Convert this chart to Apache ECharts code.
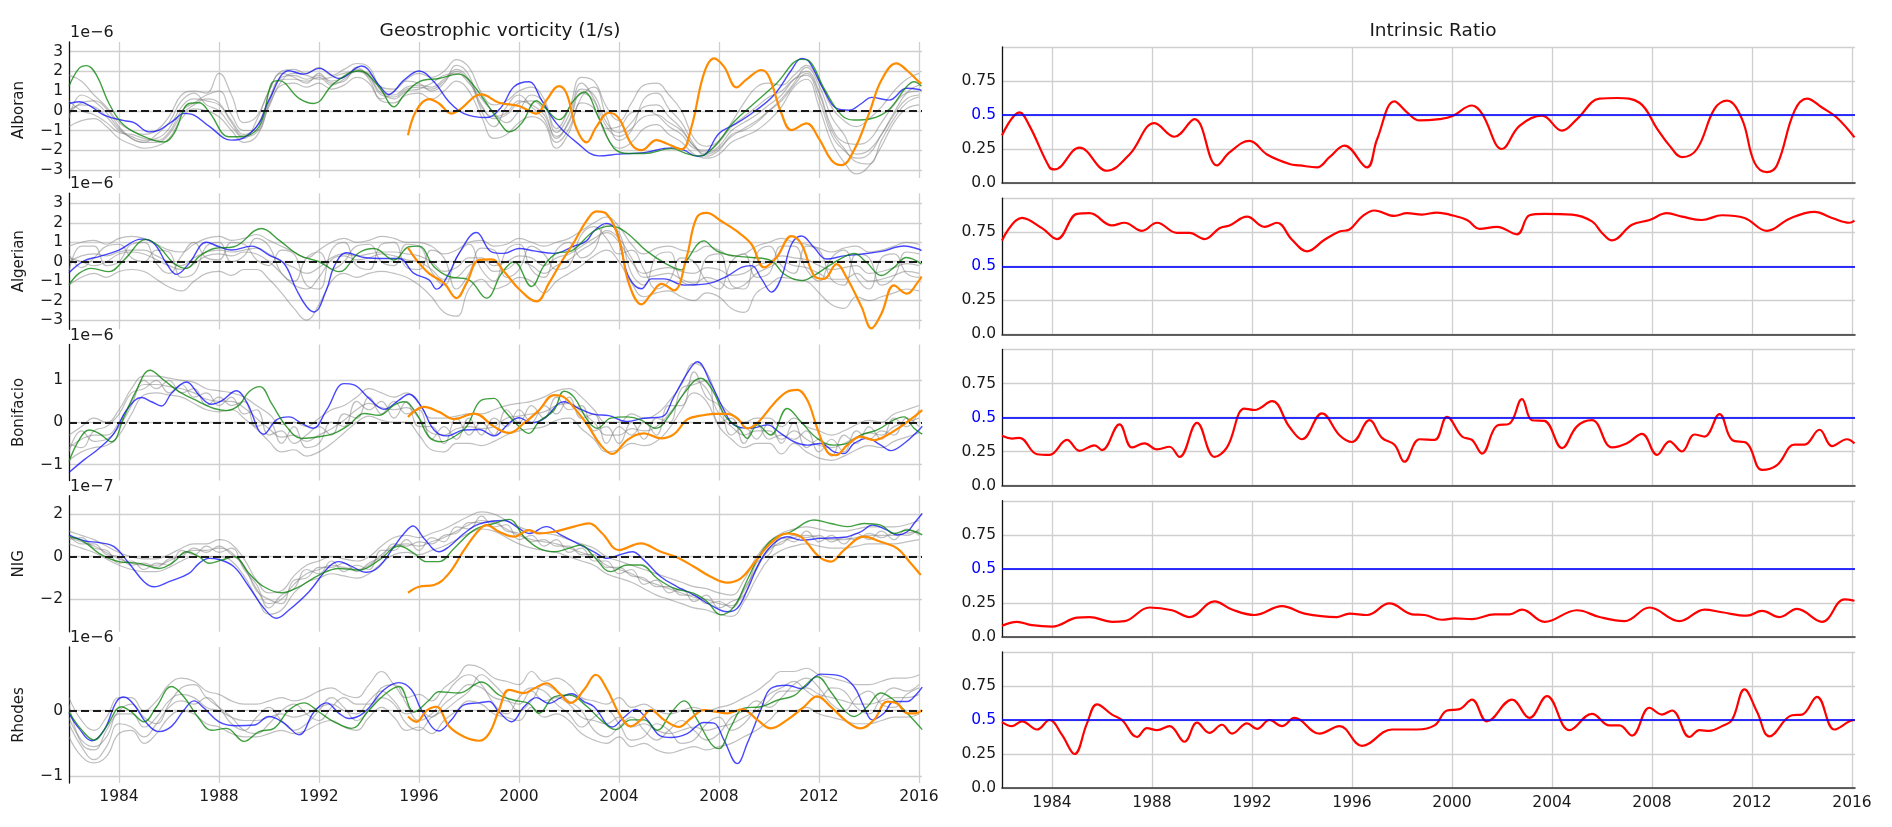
<!DOCTYPE html>
<html><head><meta charset="utf-8">
<script src="https://cdn.jsdelivr.net/npm/echarts@6.0.0/dist/echarts.min.js"></script>
<style>html,body{margin:0;padding:0;background:#fff}#chart{width:1892px;height:827px}</style>
</head><body><div id="chart"></div>
<script>
// ---------------- DATA ----------------
const halfYears = [
1982,1982.5,1983,1983.5,1984,1984.5,1985,1985.5,1986,1986.5,
1987,1987.5,1988,1988.5,1989,1989.5,1990,1990.5,1991,1991.5,
1992,1992.5,1993,1993.5,1994,1994.5,1995,1995.5,1996,1996.5,
1997,1997.5,1998,1998.5,1999,1999.5,2000,2000.5,2001,2001.5,
2002,2002.5,2003,2003.5,2004,2004.5,2005,2005.5,2006,2006.5,
2007,2007.5,2008,2008.5,2009,2009.5,2010,2010.5,2011,2011.5,
2012,2012.5,2013,2013.5,2014,2014.5,2015,2015.5,2016];
const yearTicks = [1984,1988,1992,1996,2000,2004,2008,2012,2016];
const regionNames = ['Alboran','Algerian','Bonifacio','NIG','Rhodes'];
const offsetLabels = ['1e\u22126','1e\u22126','1e\u22126','1e\u22127','1e\u22126'];
const alboranTicks = [-3,-2,-1,0,1,2,3];
const algerianTicks = [-3,-2,-1,0,1,2,3];
const bonifacioTicks = [-1,0,1];
const nigTicks = [-2,0,2];
const rhodesTicks = [-1,0];
const ratioTicks = [0,0.25,0.5,0.75,1.0];
const ratioLabels = [0,0.25,0.5,0.75];

// Alboran ensemble members (1e-6 1/s)
const alboranGray1 = [0.0,0.3,0.2,-0.3,-1.0,-1.3,-1.5,-1.4,-0.9,0.2,
0.6,0.5,0.3,-0.5,-1.2,-0.8,0.6,1.7,1.8,1.6,
1.8,1.5,1.7,2.1,1.8,0.9,0.8,1.2,1.3,1.2,
1.6,2.1,1.6,0.3,-0.4,-0.2,0.4,0.5,0.0,-1.4,
-0.5,1.1,0.8,-0.6,-1.1,-0.6,0.2,0.3,-0.3,-0.9,
-1.8,-2.1,-1.8,-1.0,-0.6,-0.2,0.3,0.8,1.6,2.0,
1.0,-0.8,-1.6,-1.7,-1.5,-0.6,0.3,0.9,1.0];
const alboranGray2 = [1.8,1.5,0.8,0.2,-0.6,-1.0,-1.2,-1.0,-0.3,0.8,
1.0,0.9,1.9,0.8,-0.6,-0.3,1.0,2.0,2.1,1.9,
2.2,1.8,2.1,2.4,2.2,1.2,1.1,1.6,1.9,1.7,
2.0,2.6,2.2,0.9,0.3,0.5,1.0,1.2,0.6,-0.9,
0.1,1.7,1.5,0.2,-0.5,0.4,1.3,1.4,0.8,0.0,
-1.4,-1.8,-1.5,-0.6,0.4,1.2,1.4,1.3,1.8,2.3,
1.5,0.2,-0.5,-0.8,-0.4,0.2,1.0,1.6,1.9];
const alboranGray3 = [-0.8,-0.5,-0.4,-0.8,-1.4,-1.7,-1.9,-1.8,-1.4,-0.4,
0.1,0.0,-0.3,-1.0,-1.6,-1.3,0.2,1.3,1.4,1.2,
1.4,1.1,1.3,1.7,1.4,0.5,0.4,0.8,0.9,0.6,
1.0,1.5,1.0,-0.3,-1.4,-1.2,-0.6,-0.3,-0.6,-1.9,
-1.1,0.4,0.1,-1.3,-1.9,-1.6,-0.9,-0.7,-1.2,-1.6,
-2.2,-2.4,-2.2,-1.6,-1.3,-1.0,-0.5,0.2,1.2,1.6,
0.2,-1.6,-2.6,-3.2,-2.8,-1.8,-0.6,0.1,0.3];
const alboranGray4 = [-0.4,0.8,0.5,-0.1,-0.9,-1.4,-1.6,-1.2,-0.6,0.5,
0.9,0.3,0.0,-0.8,-1.4,-0.5,1.0,1.9,1.7,1.4,
1.9,1.4,1.5,2.2,1.6,0.6,1.0,1.5,1.4,1.0,
1.4,2.3,1.8,0.0,-0.8,0.2,0.8,0.2,-0.4,-1.6,
-0.9,0.7,1.2,-0.3,-1.5,-1.0,0.6,0.9,0.1,-0.6,
-1.7,-2.3,-2.0,-1.2,-1.0,-0.6,0.0,0.6,1.4,2.2,
1.3,-0.3,-1.2,-2.2,-2.0,-1.2,-0.2,0.6,0.8];
const alboranGray5 = [0.5,0.0,-0.2,-0.6,-1.1,-1.2,-1.4,-1.5,-1.1,0.0,
0.4,0.8,1.0,-0.2,-1.0,-1.0,0.3,1.5,1.9,1.8,
1.6,1.7,1.9,2.0,1.9,1.0,0.6,1.0,1.1,1.4,
1.8,1.9,1.4,0.6,-0.1,-0.6,0.0,0.8,0.4,-1.1,
-0.2,1.4,0.6,-0.9,-0.8,-0.1,0.0,-0.2,-0.8,-1.2,
-1.9,-2.0,-1.6,-0.8,-0.3,0.2,0.7,1.0,1.6,1.8,
0.6,-1.2,-2.0,-2.4,-2.2,-1.2,-0.1,0.9,1.3];
const alboranGray6 = [-0.2,0.4,0.5,0.1,-0.8,-1.4,-1.6,-1.6,-1.2,-0.2,
0.3,0.6,0.4,-0.6,-1.3,-1.1,0.4,1.6,1.6,1.5,
1.7,1.3,1.6,2.0,1.7,0.8,0.7,1.1,1.2,1.1,
1.5,2.0,1.5,0.2,-0.3,-0.1,0.5,0.3,-0.2,-1.3,
-0.6,0.9,0.5,-0.8,-1.3,-0.9,-0.3,-0.2,-0.6,-1.0,
-1.8,-2.2,-1.9,-1.3,-0.9,-0.5,0.0,0.5,1.3,1.9,
0.9,-1.0,-1.9,-2.6,-2.7,-1.5,-0.4,0.4,0.7];

// Algerian ensemble members (1e-6 1/s)
const algerianGray1 = [0.0,0.3,0.4,0.3,0.5,0.6,0.6,0.3,0.0,-0.2,
0.2,0.5,0.6,0.5,0.6,0.7,0.4,0.0,-0.3,-0.6,
-0.3,0.2,0.4,0.3,0.4,0.5,0.5,0.4,0.3,0.0,
-0.5,-0.3,0.2,0.2,-0.2,0.0,0.3,0.2,-0.2,0.2,
0.4,0.8,1.2,1.5,1.0,0.0,-0.6,-0.4,-0.3,-0.5,
-0.6,-0.3,-0.4,-0.7,-0.6,-0.2,0.0,0.3,0.2,0.1,
-0.2,-0.4,-0.3,-0.2,-0.6,-0.5,-0.3,-0.1,-0.2];
const algerianGray2 = [0.8,1.0,1.1,0.9,1.2,1.3,1.2,0.9,0.6,0.5,
0.9,1.2,1.3,1.1,1.2,1.4,1.1,0.8,0.5,0.2,
0.6,1.0,1.2,1.0,1.1,1.3,1.2,1.0,1.0,0.8,
0.4,0.6,1.0,1.1,0.8,0.9,1.2,1.0,0.8,1.0,
1.2,1.6,2.0,2.3,1.8,0.9,0.4,0.7,0.8,0.6,
0.5,0.8,0.6,0.3,0.4,0.8,1.0,1.2,1.0,0.9,
0.7,0.5,0.7,0.8,0.5,0.6,0.8,1.0,0.9];
const algerianGray3 = [-1.2,-0.8,-0.6,-0.8,-0.5,-0.4,-0.5,-0.9,-1.3,-1.5,
-1.0,-0.6,-0.5,-0.7,-0.4,-0.4,-0.9,-1.6,-2.4,-3.0,
-2.2,-1.0,-0.6,-0.8,-0.6,-0.5,-0.6,-0.8,-1.2,-1.8,
-2.6,-2.8,-1.4,-0.9,-1.4,-1.2,-0.8,-1.0,-1.6,-1.0,
-0.6,-0.2,0.3,0.6,0.0,-1.1,-1.8,-1.6,-1.5,-1.8,
-2.0,-1.6,-1.8,-2.4,-2.6,-1.6,-1.2,-0.8,-0.9,-1.0,
-1.6,-2.2,-2.4,-1.8,-2.0,-1.8,-1.6,-1.4,-1.5];
const algerianGray4 = [0.4,-0.3,0.2,0.8,0.9,0.2,0.0,0.6,0.5,-0.8,
-0.6,0.8,1.0,0.0,0.3,1.2,0.8,-0.6,-1.0,0.2,
0.5,-0.4,0.0,0.8,0.9,0.0,-0.2,0.9,0.8,-0.5,
-1.2,0.2,0.9,-0.4,-1.0,0.6,0.9,-0.4,-0.8,0.6,
1.0,0.2,0.6,1.9,1.5,-0.6,-1.2,0.3,0.5,-1.0,
-1.2,0.2,0.4,-1.2,-1.4,0.4,0.8,-0.2,-0.6,0.8,
0.6,-0.9,-1.2,0.4,0.2,-1.2,-0.8,0.5,0.4];
const algerianGray5 = [-0.5,0.8,0.8,-0.2,0.0,0.9,1.0,-0.1,-0.6,0.3,
1.0,0.2,0.1,1.0,0.9,0.1,-0.2,0.6,0.4,-1.2,
-1.4,0.6,1.0,-0.2,-0.4,0.9,1.0,-0.3,-0.4,0.6,
0.2,-1.4,-0.6,0.7,0.6,-0.8,-0.4,0.8,0.4,-0.4,
-0.2,1.4,1.8,1.2,0.4,0.6,-0.4,-1.4,-1.0,0.2,
0.0,-1.0,-1.4,0.0,0.4,-0.8,-0.6,0.8,0.8,-0.4,
-1.0,0.2,0.6,-0.8,-1.4,0.2,0.4,-0.6,-0.8];
const algerianGray6 = [0.2,0.0,-0.2,0.0,0.4,0.5,0.4,0.1,-0.2,-0.4,
-0.1,0.3,0.4,0.3,0.5,0.4,0.0,-0.6,-1.2,-1.4,
-0.8,0.1,0.3,0.1,0.2,0.4,0.3,0.1,0.0,-0.4,
-0.9,-0.8,-0.2,0.0,-0.5,-0.4,0.0,-0.2,-0.6,-0.2,
0.1,0.6,1.0,1.6,1.2,0.2,-0.8,-0.7,-0.6,-0.9,
-1.1,-0.8,-1.0,-1.4,-1.2,-0.6,-0.3,0.0,-0.2,-0.3,
-0.6,-0.9,-0.9,-0.6,-1.0,-0.9,-0.7,-0.5,-0.6];

// Bonifacio ensemble members (1e-6 1/s)
const bonifacioGray1 = [-0.6,-0.4,-0.3,-0.3,0.0,0.5,0.9,0.9,0.85,0.8,
0.7,0.55,0.5,0.5,0.35,0.1,-0.15,-0.35,-0.3,-0.45,
-0.3,-0.15,0.05,0.3,0.45,0.35,0.3,0.35,0.1,-0.25,
-0.3,-0.15,-0.1,-0.15,-0.1,0.1,0.15,0.2,0.25,0.4,
0.45,0.25,0.0,-0.3,-0.3,-0.15,-0.2,-0.1,0.2,0.6,
1.0,0.8,0.2,-0.1,-0.3,-0.2,-0.2,-0.4,-0.2,-0.4,
-0.55,-0.6,-0.5,-0.35,-0.25,-0.3,-0.1,0.0,0.1];
const bonifacioGray2 = [-0.3,-0.1,0.1,0.0,0.3,0.8,1.1,1.1,1.05,1.0,
0.95,0.8,0.75,0.7,0.6,0.4,0.2,-0.05,0.0,-0.1,
0.1,0.3,0.4,0.6,0.8,0.7,0.6,0.7,0.45,0.1,
0.1,0.15,0.2,0.2,0.3,0.4,0.45,0.5,0.6,0.75,
0.8,0.6,0.3,0.0,0.0,0.2,0.1,0.2,0.5,0.9,
1.4,1.2,0.5,0.2,0.0,0.1,0.1,-0.1,0.1,-0.1,
-0.2,-0.3,-0.2,-0.05,0.05,0.0,0.2,0.3,0.4];
const bonifacioGray3 = [-0.9,-0.7,-0.6,-0.55,-0.3,0.2,0.65,0.7,0.65,0.6,
0.45,0.3,0.25,0.3,0.1,-0.15,-0.45,-0.7,-0.65,-0.8,
-0.7,-0.5,-0.25,0.0,0.15,0.05,0.0,0.0,-0.3,-0.65,
-0.7,-0.5,-0.5,-0.55,-0.45,-0.3,-0.2,-0.15,-0.1,0.05,
0.1,-0.15,-0.4,-0.7,-0.65,-0.5,-0.55,-0.45,-0.15,0.3,
0.7,0.5,-0.1,-0.4,-0.6,-0.5,-0.5,-0.75,-0.5,-0.7,
-0.85,-0.9,-0.8,-0.65,-0.55,-0.6,-0.45,-0.35,-0.25];
const bonifacioGray4 = [-0.5,-0.6,-0.2,-0.1,0.2,0.7,0.8,1.0,0.7,0.9,
0.6,0.7,0.4,0.6,0.2,0.3,-0.3,-0.2,-0.5,-0.3,
-0.1,-0.3,0.2,0.1,0.6,0.2,0.5,0.2,0.3,-0.4,
-0.1,-0.4,0.1,-0.3,0.1,-0.1,0.3,0.0,0.4,0.2,
0.6,0.1,0.2,-0.5,-0.1,-0.3,0.0,-0.3,0.4,0.4,
1.2,0.6,0.4,-0.3,-0.1,-0.4,0.0,-0.5,0.0,-0.6,
-0.4,-0.8,-0.3,-0.5,-0.1,-0.4,0.1,-0.1,0.3];
const bonifacioGray5 = [-0.7,-0.2,-0.45,-0.4,-0.1,0.4,1.0,0.8,1.0,0.7,
0.8,0.4,0.6,0.4,0.5,-0.1,0.0,-0.5,-0.1,-0.6,
-0.5,0.0,-0.1,0.5,0.3,0.5,0.1,0.5,-0.1,-0.1,
-0.5,0.1,-0.3,0.0,-0.3,0.3,0.0,0.4,0.1,0.6,
0.3,0.4,-0.2,-0.1,-0.5,0.0,-0.4,0.1,0.0,0.8,
0.9,1.0,0.0,0.1,-0.5,0.0,-0.4,-0.3,-0.4,-0.2,
-0.7,-0.4,-0.7,-0.2,-0.4,-0.2,-0.3,0.1,-0.1];

// NIG ensemble members (1e-7 1/s)
const nigGray1 = [0.9,0.7,0.5,0.2,-0.1,-0.3,-0.4,-0.4,-0.2,0.1,
0.3,0.3,0.4,0.2,-0.5,-1.5,-2.2,-2.0,-1.3,-0.8,
-0.6,-0.4,-0.5,-0.6,-0.4,0.1,0.5,0.6,0.5,0.7,
0.9,1.2,1.5,1.7,1.6,1.3,1.0,0.8,0.7,0.6,
0.4,0.2,0.0,-0.4,-0.6,-0.8,-1.1,-1.3,-1.5,-1.7,
-1.9,-2.0,-2.2,-2.3,-1.6,-0.5,0.3,0.7,0.9,1.0,
0.9,0.8,0.8,0.9,1.0,1.0,1.0,1.1,1.2];
const nigGray2 = [1.2,1.0,0.8,0.5,0.2,0.0,-0.1,-0.1,0.1,0.4,
0.6,0.6,0.8,0.6,-0.1,-1.1,-1.7,-1.6,-0.9,-0.4,
-0.2,0.0,-0.1,-0.2,0.0,0.5,0.9,1.0,0.9,1.1,
1.3,1.6,1.9,2.1,2.0,1.7,1.4,1.2,1.1,1.0,
0.8,0.6,0.4,0.0,-0.2,-0.4,-0.6,-0.8,-1.0,-1.2,
-1.4,-1.5,-1.7,-1.8,-1.1,0.0,0.7,1.1,1.3,1.4,
1.3,1.2,1.2,1.3,1.4,1.4,1.4,1.5,1.7];
const nigGray3 = [0.6,0.4,0.2,-0.1,-0.4,-0.6,-0.7,-0.7,-0.5,-0.2,
0.0,0.0,0.0,-0.2,-0.9,-1.9,-2.7,-2.5,-1.7,-1.2,
-1.0,-0.8,-0.9,-1.0,-0.8,-0.3,0.1,0.2,0.1,0.3,
0.5,0.8,1.1,1.3,1.2,0.9,0.6,0.4,0.3,0.2,
0.0,-0.2,-0.4,-0.8,-1.0,-1.2,-1.5,-1.8,-2.0,-2.2,
-2.4,-2.5,-2.7,-2.8,-2.1,-1.0,-0.1,0.3,0.5,0.6,
0.5,0.4,0.4,0.5,0.6,0.6,0.6,0.7,0.8];
const nigGray4 = [0.8,0.9,0.4,0.3,-0.3,-0.2,-0.6,-0.3,-0.4,0.3,
0.1,0.5,0.2,0.4,-0.6,-1.3,-2.4,-1.8,-1.5,-0.6,
-0.8,-0.2,-0.7,-0.4,-0.6,0.3,0.3,0.8,0.3,0.9,
0.7,1.4,1.3,1.9,1.4,1.5,0.8,1.0,0.5,0.8,
0.2,0.4,-0.2,-0.2,-0.8,-0.6,-1.3,-1.1,-1.7,-1.5,
-2.1,-1.8,-2.4,-2.1,-1.8,-0.3,0.1,0.9,0.7,1.2,
0.7,1.0,0.6,1.1,0.8,1.2,0.8,1.3,1.0];
const nigGray5 = [1.0,0.6,0.6,0.1,0.0,-0.4,-0.3,-0.5,-0.1,0.0,
0.4,0.2,0.5,0.1,-0.4,-1.6,-2.0,-2.2,-1.1,-1.0,
-0.5,-0.5,-0.3,-0.7,-0.3,0.0,0.6,0.5,0.7,0.6,
1.0,1.1,1.6,1.6,1.7,1.2,1.1,0.7,0.8,0.5,
0.5,0.1,0.1,-0.5,-0.5,-0.9,-1.0,-1.4,-1.4,-1.8,
-1.8,-2.2,-2.1,-2.4,-1.5,-0.6,0.4,0.6,1.0,0.9,
1.0,0.7,0.9,0.8,1.1,0.9,1.1,1.0,1.3];

// Rhodes ensemble members (1e-6 1/s)
const rhodesGray1 = [-0.1,-0.45,-0.55,-0.4,-0.05,-0.05,-0.25,-0.1,0.15,0.25,
0.2,0.05,0.0,-0.1,-0.15,-0.15,-0.1,-0.05,-0.1,-0.05,
0.05,0.1,0.0,-0.05,0.15,0.3,0.15,-0.05,0.0,-0.1,
0.1,0.25,0.4,0.35,0.2,0.15,0.1,0.3,0.15,0.2,
0.1,-0.1,-0.15,-0.2,-0.1,-0.25,-0.2,-0.3,-0.35,-0.3,
-0.25,-0.3,-0.25,-0.2,-0.1,0.0,0.15,0.3,0.3,0.35,
0.25,0.2,0.15,0.1,0.1,0.15,0.2,0.2,0.25];
const rhodesGray2 = [0.2,-0.15,-0.3,-0.1,0.2,0.2,0.0,0.15,0.4,0.5,
0.45,0.3,0.25,0.15,0.1,0.1,0.15,0.2,0.15,0.2,
0.3,0.35,0.25,0.2,0.4,0.6,0.4,0.2,0.25,0.15,
0.35,0.5,0.7,0.65,0.5,0.45,0.4,0.6,0.45,0.5,
0.4,0.2,0.15,0.1,0.2,0.05,0.1,0.0,-0.05,0.0,
0.05,0.0,0.05,0.1,0.2,0.3,0.45,0.6,0.6,0.65,
0.55,0.5,0.45,0.4,0.4,0.45,0.5,0.5,0.55];
const rhodesGray3 = [-0.4,-0.7,-0.8,-0.7,-0.35,-0.3,-0.5,-0.35,-0.1,0.0,
-0.05,-0.2,-0.25,-0.35,-0.4,-0.4,-0.35,-0.3,-0.35,-0.3,
-0.2,-0.15,-0.25,-0.3,-0.1,0.05,-0.1,-0.3,-0.25,-0.35,
-0.15,0.0,0.15,0.1,-0.05,-0.1,-0.15,0.05,-0.1,-0.05,
-0.15,-0.35,-0.45,-0.5,-0.4,-0.55,-0.5,-0.6,-0.65,-0.6,
-0.55,-0.6,-0.55,-0.5,-0.4,-0.3,-0.15,0.0,0.0,0.05,
-0.05,-0.1,-0.15,-0.2,-0.2,-0.15,-0.1,-0.1,-0.05];
const rhodesGray4 = [0.1,-0.5,-0.6,-0.3,0.0,0.1,-0.1,-0.2,0.1,0.35,
0.4,0.2,0.05,-0.1,-0.3,-0.35,-0.2,0.0,0.1,-0.05,
-0.15,0.05,0.2,0.1,0.1,0.35,0.4,0.1,-0.15,-0.05,
0.2,0.45,0.55,0.4,0.1,-0.05,0.2,0.35,0.3,0.1,
-0.05,-0.25,-0.1,0.0,-0.2,-0.45,-0.4,-0.2,-0.3,-0.5,
-0.45,-0.2,-0.1,-0.3,-0.2,0.05,0.25,0.35,0.45,0.3,
0.2,0.35,0.3,0.05,-0.05,0.2,0.35,0.3,0.4];
const rhodesGray5 = [-0.2,-0.55,-0.75,-0.55,-0.2,-0.25,-0.4,-0.2,0.05,0.15,
0.1,0.2,0.05,-0.2,-0.3,-0.1,0.05,-0.15,-0.3,-0.2,
0.0,0.2,0.05,-0.15,0.0,0.2,0.1,-0.2,-0.3,-0.1,
0.0,0.15,0.3,0.55,0.4,0.2,0.0,0.15,0.4,0.3,
0.15,0.0,-0.3,-0.4,-0.25,-0.1,-0.3,-0.45,-0.3,-0.15,
-0.3,-0.45,-0.35,-0.1,0.0,0.15,0.05,0.2,0.4,0.5,
0.35,0.1,0.0,0.2,0.3,0.1,0.05,0.25,0.35];

// Coloured curves: [year, value]
const alboranBlue = [[1982.0,0.37],[1982.4,0.46],[1982.9,0.2],[1983.4,-0.22],[1984.2,-0.5],[1984.6,-0.6],[1985.2,-1.07],[1985.6,-0.98],[1986.2,-0.47],[1986.6,-0.13],[1987.0,-0.22],[1987.6,-0.78],[1988.5,-1.49],[1989.0,-1.36],[1989.6,-0.64],[1990.0,0.54],[1990.8,2.03],[1991.4,1.86],[1992.0,2.15],[1992.8,1.64],[1993.7,2.27],[1994.4,1.3],[1994.8,0.83],[1995.4,1.56],[1996.0,2.02],[1996.6,1.47],[1997.2,0.46],[1997.8,-0.14],[1998.7,-0.34],[1999.3,0.2],[1999.8,1.22],[2000.4,1.47],[2000.9,0.54],[2001.5,-0.64],[2002.3,-1.6],[2003.2,-2.29],[2004.0,-2.2],[2005.0,-2.12],[2006.1,-1.88],[2006.6,-2.0],[2007.1,-2.3],[2007.4,-2.25],[2008.0,-1.15],[2008.7,-0.64],[2009.4,-0.05],[2010.2,0.8],[2010.9,2.07],[2011.3,2.66],[2011.6,2.49],[2012.2,1.05],[2012.7,0.12],[2013.2,0.03],[2013.7,0.37],[2014.1,0.68],[2014.8,0.54],[2015.5,1.14],[2016.0,1.08],[2016.1,1.02]];
const alboranGreen = [[1982.0,1.25],[1982.4,2.15],[1982.7,2.29],[1983.1,1.81],[1983.6,0.37],[1984.2,-0.73],[1985.2,-1.41],[1985.8,-1.58],[1986.2,-1.15],[1986.8,0.37],[1987.2,0.41],[1987.6,-0.05],[1988.4,-1.32],[1988.8,-1.32],[1989.6,-0.81],[1990.1,1.39],[1990.4,1.53],[1991.2,0.63],[1991.8,0.37],[1992.6,1.39],[1993.6,2.03],[1994.4,1.22],[1995.0,0.2],[1995.4,0.8],[1996.0,1.47],[1996.8,1.64],[1997.6,1.86],[1998.0,1.56],[1998.8,0.2],[1999.4,-0.9],[1999.6,-1.07],[2000.1,-0.64],[2000.7,0.51],[2001.0,0.2],[2001.6,-0.45],[2002.2,0.54],[2002.6,0.95],[2003.2,-0.39],[2003.8,-1.9],[2004.4,-2.17],[2005.0,-2.17],[2006.1,-1.92],[2006.7,-2.17],[2007.2,-2.3],[2007.8,-1.83],[2008.6,-0.56],[2009.4,0.37],[2010.3,1.39],[2011.3,2.61],[2011.6,2.54],[2012.2,1.14],[2012.9,-0.22],[2013.4,-0.47],[2014.1,-0.39],[2014.8,0.07],[2015.5,1.22],[2015.8,1.47],[2016.1,1.25]];
const alboranOrange = [[1995.56,-1.24],[1995.9,0.03],[1996.4,0.59],[1996.8,0.37],[1997.3,-0.14],[1997.6,0.03],[1998.5,0.83],[1999.2,0.41],[2000.0,0.24],[2000.7,-0.14],[2001.1,0.54],[2001.6,1.25],[2001.9,0.88],[2002.3,-0.9],[2002.7,-1.6],[2003.1,-0.8],[2003.6,-0.1],[2004.0,-0.4],[2004.5,-1.7],[2004.9,-2.0],[2005.5,-1.49],[2005.9,-1.66],[2006.5,-1.95],[2006.9,-0.81],[2007.4,1.9],[2007.8,2.66],[2008.2,2.24],[2008.7,1.19],[2009.1,1.59],[2009.7,2.07],[2010.0,1.73],[2010.5,-0.14],[2010.9,-0.98],[2011.5,-0.64],[2012.0,-1.41],[2012.5,-2.51],[2012.9,-2.76],[2013.4,-2.0],[2014.0,-0.14],[2014.5,1.56],[2015.1,2.41],[2015.5,2.07],[2016.0,1.47],[2016.1,1.39]];

const algerianBlue = [[1982.0,-0.56],[1982.6,0.05],[1983.2,0.26],[1984.0,0.6],[1984.9,1.16],[1985.4,0.94],[1985.9,-0.09],[1986.3,-0.65],[1986.8,-0.09],[1987.5,1.0],[1988.0,0.77],[1988.5,0.6],[1989.3,0.8],[1990.0,0.34],[1990.6,-0.09],[1991.1,-1.44],[1991.5,-2.3],[1991.8,-2.58],[1992.3,-1.44],[1992.6,-0.26],[1993.1,0.46],[1993.8,0.22],[1994.6,0.17],[1995.2,0.17],[1995.8,-0.6],[1996.4,-0.93],[1996.7,-1.41],[1997.2,-0.6],[1997.6,0.43],[1998.3,1.5],[1998.9,0.51],[1999.4,0.43],[2000.0,0.68],[2000.6,0.56],[2001.4,0.43],[2002.2,0.8],[2002.7,1.07],[2003.0,1.58],[2003.5,1.97],[2003.9,1.58],[2004.1,0.56],[2004.4,-0.8],[2004.9,-1.39],[2005.3,-0.88],[2005.8,-0.88],[2006.6,-1.2],[2007.5,-1.14],[2008.3,-0.76],[2008.9,-0.29],[2009.3,-0.2],[2009.7,-0.88],[2010.1,-1.56],[2010.5,-0.8],[2010.9,0.9],[2011.3,1.32],[2011.8,0.73],[2012.3,0.14],[2013.0,0.3],[2013.7,0.39],[2014.5,0.53],[2015.4,0.81],[2016.0,0.64],[2016.1,0.56]];
const algerianGreen = [[1982.0,-1.19],[1982.4,-0.6],[1982.9,-0.34],[1983.6,-0.51],[1984.2,0.09],[1985.1,1.15],[1985.6,0.77],[1986.2,-0.09],[1986.7,-0.34],[1987.2,0.26],[1987.8,0.68],[1988.6,0.77],[1989.7,1.71],[1990.4,1.11],[1991.2,0.34],[1992.0,0.0],[1992.8,-0.51],[1993.6,0.46],[1994.2,0.68],[1995.0,0.09],[1995.6,0.77],[1996.0,0.8],[1996.6,-0.26],[1997.2,-0.76],[1998.0,-0.93],[1998.7,-1.87],[1999.3,-0.6],[1999.8,0.0],[2000.5,-1.27],[2001.0,-0.2],[2001.5,0.43],[2002.1,0.56],[2003.0,1.58],[2003.7,1.83],[2004.3,1.49],[2005.1,0.56],[2005.9,-0.12],[2006.5,-0.42],[2006.7,0.05],[2007.4,1.07],[2007.9,0.56],[2008.6,0.3],[2009.3,0.22],[2010.1,0.05],[2010.6,-0.63],[2011.3,-0.97],[2011.8,-0.71],[2012.3,-0.29],[2013.0,0.25],[2013.4,0.42],[2013.9,-0.03],[2014.5,-0.71],[2015.0,-0.29],[2015.5,0.22],[2016.1,-0.12]];
const algerianOrange = [[1995.56,0.72],[1995.9,0.09],[1996.4,-0.6],[1997.0,-1.1],[1997.5,-1.87],[1997.9,-1.1],[1998.4,0.09],[1998.9,0.12],[1999.4,-0.5],[2000.0,-1.4],[2000.7,-2.04],[2001.2,-1.1],[2001.7,0.0],[2002.2,1.0],[2002.7,2.1],[2003.1,2.59],[2003.5,2.46],[2004.0,1.15],[2004.4,-1.14],[2004.9,-2.19],[2005.3,-1.64],[2005.7,-1.14],[2006.2,-1.47],[2006.7,0.22],[2007.1,2.25],[2007.5,2.51],[2008.1,2.08],[2008.7,1.58],[2009.3,0.9],[2009.8,-0.29],[2010.3,0.22],[2010.9,1.32],[2011.3,0.9],[2011.8,-0.71],[2012.2,-0.88],[2012.7,-0.12],[2013.1,-0.8],[2013.7,-2.32],[2014.1,-3.42],[2014.5,-2.66],[2015.0,-1.22],[2015.5,-1.64],[2016.0,-0.97],[2016.1,-0.76]];

const bonifacioBlue = [[1982.0,-1.19],[1982.6,-0.89],[1983.2,-0.62],[1983.8,-0.26],[1984.3,0.29],[1984.9,0.59],[1985.3,0.49],[1985.7,0.39],[1986.1,0.69],[1986.7,0.96],[1987.2,0.65],[1987.7,0.43],[1988.1,0.51],[1988.7,0.75],[1989.1,0.49],[1989.8,-0.28],[1990.3,0.06],[1990.8,0.13],[1991.3,-0.02],[1991.76,-0.14],[1992.3,0.29],[1993.0,0.92],[1993.4,0.89],[1994.0,0.57],[1994.6,0.31],[1995.2,0.53],[1995.6,0.67],[1996.1,0.37],[1996.6,-0.18],[1997.1,-0.32],[1997.8,-0.18],[1998.4,-0.17],[1999.0,-0.32],[1999.6,-0.02],[2000.0,0.11],[2000.5,-0.01],[2001.0,0.09],[2001.8,0.49],[2002.4,0.33],[2003.0,0.19],[2003.6,0.16],[2004.3,0.02],[2005.0,0.1],[2005.7,0.13],[2006.2,0.61],[2006.73,1.17],[2007.13,1.44],[2007.67,0.93],[2008.2,0.29],[2008.6,-0.06],[2009.27,-0.14],[2009.93,-0.06],[2010.47,-0.26],[2011.0,-0.46],[2011.53,-0.54],[2012.07,-0.5],[2012.6,-0.7],[2013.0,-0.74],[2013.4,-0.5],[2013.93,-0.38],[2014.47,-0.54],[2014.87,-0.67],[2015.4,-0.5],[2016.0,-0.18],[2016.13,-0.09]];
const bonifacioGreen = [[1982.0,-0.93],[1982.4,-0.42],[1982.8,-0.18],[1983.2,-0.26],[1983.7,-0.46],[1984.2,0.13],[1984.7,0.77],[1985.24,1.24],[1985.8,1.0],[1986.4,0.73],[1987.2,0.49],[1987.8,0.33],[1988.3,0.28],[1988.8,0.41],[1989.2,0.73],[1989.64,0.85],[1990.1,0.45],[1990.7,-0.1],[1991.3,-0.38],[1992.0,-0.34],[1992.6,-0.26],[1993.2,-0.06],[1993.8,0.21],[1994.4,0.17],[1995.0,0.41],[1995.4,0.49],[1995.9,0.21],[1996.4,-0.34],[1996.9,-0.46],[1997.4,-0.34],[1997.9,-0.1],[1998.5,0.53],[1999.0,0.57],[1999.4,0.29],[2000.0,-0.1],[2000.4,-0.26],[2000.8,0.02],[2001.4,0.29],[2001.8,0.74],[2002.2,0.6],[2002.73,0.06],[2003.13,-0.14],[2003.67,0.1],[2004.33,0.13],[2004.87,0.06],[2005.47,-0.14],[2006.07,0.21],[2006.6,0.69],[2007.27,1.05],[2007.73,0.77],[2008.27,0.13],[2008.8,-0.14],[2009.13,-0.38],[2009.53,-0.06],[2010.07,-0.3],[2010.73,0.33],[2011.27,0.02],[2011.93,-0.38],[2012.6,-0.54],[2013.13,-0.5],[2013.67,-0.3],[2014.33,-0.18],[2015.0,0.06],[2015.4,0.13],[2015.8,-0.14],[2016.13,-0.28]];
const bonifacioOrange = [[1995.56,0.13],[1996.2,0.37],[1996.8,0.25],[1997.4,0.08],[1998.2,0.21],[1999.0,-0.1],[1999.6,-0.25],[2000.2,-0.02],[2000.8,0.29],[2001.4,0.65],[2001.8,0.6],[2002.2,0.35],[2002.73,-0.05],[2003.27,-0.54],[2003.73,-0.75],[2004.33,-0.42],[2005.0,-0.26],[2005.67,-0.38],[2006.2,-0.28],[2006.73,0.07],[2007.27,0.16],[2007.8,0.2],[2008.33,0.2],[2008.73,0.1],[2009.13,-0.14],[2009.53,-0.02],[2010.2,0.45],[2010.73,0.73],[2011.13,0.77],[2011.53,0.53],[2011.93,-0.14],[2012.33,-0.7],[2012.67,-0.78],[2013.13,-0.54],[2013.67,-0.34],[2014.2,-0.42],[2014.73,-0.3],[2015.27,-0.1],[2015.8,0.13],[2016.13,0.29]];

const nigBlue = [[1982.0,1.02],[1982.6,0.75],[1983.2,0.66],[1983.8,0.47],[1984.4,-0.31],[1985.0,-1.17],[1985.4,-1.41],[1986.0,-1.17],[1986.8,-0.78],[1987.2,-0.31],[1987.6,-0.08],[1988.0,-0.13],[1988.6,-0.47],[1989.2,-1.41],[1989.8,-2.42],[1990.3,-2.89],[1990.8,-2.5],[1991.6,-1.64],[1992.4,-0.47],[1992.8,-0.23],[1993.2,-0.39],[1993.9,-0.73],[1994.4,-0.47],[1995.0,0.47],[1995.4,1.09],[1995.76,1.44],[1996.2,0.86],[1996.8,0.23],[1997.2,0.47],[1997.8,1.09],[1998.4,1.53],[1999.4,1.7],[2000.0,1.33],[2000.4,1.09],[2001.1,1.41],[2001.67,1.02],[2002.33,0.63],[2003.0,0.23],[2003.53,-0.08],[2004.0,0.08],[2004.53,0.23],[2005.0,-0.16],[2005.67,-0.94],[2006.33,-1.41],[2007.0,-1.8],[2007.67,-2.27],[2008.33,-2.58],[2008.73,-2.42],[2009.13,-1.56],[2009.67,-0.16],[2010.2,0.63],[2010.73,0.94],[2011.27,0.78],[2012.07,0.86],[2013.0,0.91],[2013.67,1.17],[2014.13,1.48],[2014.73,1.25],[2015.13,1.02],[2015.53,1.17],[2015.8,1.56],[2016.13,2.03]];
const nigGreen = [[1982.0,0.94],[1982.6,0.7],[1983.2,0.16],[1984.0,-0.23],[1984.8,-0.31],[1985.6,-0.55],[1986.2,-0.23],[1986.7,0.23],[1987.2,0.0],[1987.6,-0.31],[1988.1,-0.16],[1988.6,0.0],[1989.2,-0.78],[1989.8,-1.41],[1990.5,-1.69],[1991.2,-1.41],[1992.0,-0.86],[1992.8,-0.55],[1993.6,-0.63],[1994.4,-0.16],[1995.2,0.5],[1995.8,0.16],[1996.3,-0.23],[1996.8,-0.23],[1997.4,0.39],[1998.2,1.25],[1999.0,1.56],[1999.6,1.75],[2000.2,0.94],[2000.8,0.39],[2001.4,0.23],[2002.0,0.4],[2002.47,0.55],[2003.0,0.0],[2003.67,-0.7],[2004.33,-0.39],[2004.87,-0.39],[2005.53,-1.02],[2006.2,-1.48],[2007.0,-1.72],[2007.53,-2.11],[2008.07,-2.73],[2008.6,-2.34],[2009.13,-1.09],[2009.67,0.16],[2010.2,0.86],[2010.87,1.17],[2011.8,1.72],[2012.47,1.56],[2013.13,1.41],[2013.8,1.56],[2014.47,1.48],[2015.0,1.09],[2015.53,1.25],[2016.13,1.02]];
const nigOrange = [[1995.56,-1.69],[1996.0,-1.41],[1996.6,-1.33],[1997.2,-0.78],[1997.8,0.31],[1998.4,1.25],[1998.7,1.48],[1999.2,1.17],[1999.8,0.94],[2000.4,1.25],[2000.8,1.09],[2001.4,1.17],[2002.2,1.41],[2002.8,1.56],[2003.33,1.09],[2004.0,0.31],[2004.87,0.63],[2005.67,0.23],[2006.27,0.0],[2007.0,-0.47],[2007.67,-0.94],[2008.33,-1.22],[2008.87,-1.02],[2009.4,-0.31],[2010.07,0.63],[2010.73,1.09],[2011.27,0.94],[2012.0,0.0],[2012.47,-0.23],[2013.0,0.31],[2013.8,0.94],[2014.47,0.7],[2015.13,0.39],[2015.67,-0.31],[2016.07,-0.86]];

const rhodesBlue = [[1982.0,-0.04],[1982.4,-0.27],[1982.9,-0.46],[1983.4,-0.3],[1983.9,0.14],[1984.2,0.21],[1984.6,0.09],[1985.1,-0.19],[1985.6,-0.32],[1986.1,-0.24],[1986.6,0.01],[1987.0,0.15],[1987.4,0.04],[1988.0,-0.17],[1988.7,-0.23],[1989.4,-0.22],[1990.0,-0.09],[1990.6,-0.19],[1991.2,-0.37],[1991.8,-0.02],[1992.3,0.12],[1992.8,-0.04],[1993.2,-0.12],[1993.8,-0.03],[1994.6,0.32],[1995.2,0.43],[1995.7,0.32],[1996.1,0.01],[1996.8,-0.31],[1997.3,-0.14],[1997.8,0.09],[1998.4,0.12],[1998.8,0.14],[1999.2,-0.02],[1999.7,-0.17],[2000.2,0.06],[2000.7,0.2],[2001.2,0.11],[2001.67,0.2],[2002.1,0.26],[2002.6,0.14],[2003.0,0.06],[2003.73,-0.25],[2004.2,-0.1],[2004.67,0.02],[2005.13,-0.14],[2005.67,-0.39],[2006.07,-0.41],[2006.73,-0.35],[2007.4,-0.18],[2007.8,-0.19],[2008.2,-0.45],[2008.73,-0.81],[2009.13,-0.5],[2009.67,0.01],[2010.07,0.34],[2010.73,0.39],[2011.27,0.34],[2012.07,0.56],[2012.87,0.53],[2013.4,0.37],[2013.8,0.06],[2014.13,-0.14],[2014.6,-0.04],[2015.0,0.14],[2015.53,0.14],[2015.87,0.24],[2016.13,0.36]];
const rhodesGreen = [[1982.0,-0.02],[1982.5,-0.29],[1983.0,-0.45],[1983.5,-0.24],[1984.1,0.06],[1984.5,-0.02],[1985.0,-0.17],[1985.5,0.06],[1986.1,0.37],[1986.6,0.21],[1987.2,-0.12],[1987.7,-0.3],[1988.3,-0.27],[1989.0,-0.47],[1989.6,-0.32],[1990.2,-0.27],[1990.8,0.01],[1991.4,0.12],[1992.0,-0.02],[1992.6,-0.17],[1993.3,-0.27],[1994.0,0.01],[1994.7,0.27],[1995.2,0.37],[1995.8,-0.02],[1996.4,0.16],[1996.8,0.29],[1997.6,0.27],[1998.5,0.44],[1999.2,0.24],[1999.8,0.16],[2000.4,0.11],[2000.8,-0.04],[2001.4,0.21],[2002.0,0.24],[2002.73,0.06],[2003.27,-0.14],[2003.87,-0.29],[2004.47,-0.14],[2005.0,-0.14],[2005.53,-0.3],[2006.07,-0.04],[2006.6,0.15],[2007.13,-0.14],[2007.67,-0.5],[2008.0,-0.58],[2008.47,-0.25],[2009.0,0.04],[2009.67,0.06],[2010.33,0.16],[2011.0,0.23],[2011.4,0.37],[2011.93,0.52],[2012.47,0.29],[2013.0,0.01],[2013.4,-0.09],[2013.93,0.06],[2014.47,0.27],[2015.0,0.16],[2015.53,-0.04],[2016.13,-0.29]];
const rhodesOrange = [[1995.56,-0.09],[1995.9,-0.17],[1996.3,0.0],[1996.7,0.06],[1997.2,-0.24],[1997.8,-0.4],[1998.4,-0.46],[1998.8,-0.35],[1999.2,0.01],[1999.6,0.32],[2000.2,0.27],[2000.6,0.34],[2001.1,0.42],[2001.6,0.27],[2002.07,0.12],[2002.6,0.32],[2003.07,0.55],[2003.53,0.32],[2004.0,-0.04],[2004.47,-0.24],[2004.87,-0.14],[2005.27,0.01],[2005.8,-0.14],[2006.4,-0.25],[2006.87,-0.12],[2007.4,0.01],[2007.93,-0.02],[2008.33,-0.04],[2008.93,0.02],[2009.53,-0.14],[2010.07,-0.27],[2010.73,-0.14],[2011.4,0.06],[2011.93,0.22],[2012.47,0.06],[2013.13,-0.17],[2013.67,-0.27],[2014.2,-0.14],[2014.73,0.14],[2015.13,0.11],[2015.53,-0.04],[2015.87,-0.04],[2016.13,0.01]];

// Intrinsic ratio curves: [year, value]
const ratioAlboran = [[1982.0,0.35],[1982.7,0.52],[1983.1,0.42],[1983.9,0.115],[1984.1,0.10],[1985.1,0.26],[1986.2,0.09],[1987.1,0.21],[1988.1,0.44],[1988.9,0.34],[1989.7,0.47],[1990.6,0.13],[1991.1,0.225],[1991.9,0.31],[1992.6,0.21],[1993.5,0.14],[1993.9,0.13],[1994.6,0.115],[1995.1,0.19],[1995.7,0.275],[1996.6,0.115],[1997.0,0.32],[1997.7,0.60],[1998.2,0.52],[1998.7,0.46],[1999.5,0.47],[2000.0,0.49],[2000.8,0.57],[2001.2,0.51],[2002.0,0.25],[2002.7,0.42],[2003.6,0.495],[2004.4,0.385],[2005.0,0.47],[2005.9,0.62],[2006.6,0.625],[2007.5,0.59],[2008.2,0.40],[2008.7,0.275],[2009.2,0.19],[2009.8,0.25],[2010.5,0.545],[2011.0,0.605],[2011.6,0.47],[2012.1,0.15],[2012.6,0.08],[2013.0,0.13],[2013.7,0.53],[2014.2,0.62],[2014.8,0.555],[2015.4,0.48],[2016.1,0.335]];
const ratioAlgerian = [[1982.0,0.69],[1982.8,0.855],[1983.6,0.78],[1984.2,0.70],[1985.0,0.885],[1985.5,0.89],[1986.4,0.80],[1986.9,0.82],[1987.6,0.76],[1988.2,0.82],[1989.0,0.745],[1989.5,0.745],[1990.1,0.70],[1990.7,0.78],[1991.1,0.80],[1991.8,0.865],[1992.5,0.79],[1993.0,0.82],[1993.6,0.695],[1994.2,0.61],[1994.9,0.695],[1995.5,0.755],[1995.9,0.77],[1996.4,0.865],[1996.9,0.91],[1997.7,0.87],[1998.2,0.89],[1998.8,0.88],[1999.4,0.895],[1999.9,0.88],[2000.6,0.84],[2001.1,0.775],[2001.8,0.79],[2002.6,0.735],[2003.1,0.875],[2003.7,0.885],[2004.8,0.88],[2005.6,0.83],[2006.0,0.745],[2006.4,0.69],[2007.2,0.805],[2007.9,0.84],[2008.6,0.89],[2009.2,0.865],[2010.0,0.84],[2010.8,0.875],[2011.7,0.855],[2012.6,0.76],[2013.5,0.85],[2014.5,0.90],[2015.2,0.855],[2015.9,0.82],[2016.1,0.835]];
const ratioBonifacio = [[1982.0,0.365],[1982.4,0.345],[1982.7,0.35],[1983.4,0.23],[1983.9,0.225],[1984.6,0.335],[1985.1,0.255],[1985.7,0.295],[1986.0,0.26],[1986.7,0.45],[1987.2,0.28],[1987.7,0.31],[1988.2,0.265],[1988.7,0.285],[1989.1,0.21],[1989.8,0.46],[1990.5,0.21],[1991.0,0.28],[1991.7,0.565],[1992.1,0.555],[1992.8,0.62],[1993.5,0.43],[1994.0,0.34],[1994.8,0.53],[1995.5,0.37],[1996.0,0.32],[1996.7,0.48],[1997.2,0.35],[1997.7,0.30],[1998.1,0.175],[1998.7,0.34],[1999.3,0.335],[1999.8,0.505],[2000.4,0.36],[2000.8,0.335],[2001.2,0.235],[2001.8,0.44],[2002.3,0.455],[2002.8,0.635],[2003.2,0.48],[2003.7,0.475],[2004.4,0.275],[2005.0,0.435],[2005.6,0.48],[2006.4,0.28],[2007.0,0.31],[2007.6,0.38],[2008.2,0.225],[2008.7,0.325],[2009.2,0.25],[2009.7,0.375],[2010.1,0.36],[2010.7,0.525],[2011.2,0.335],[2011.8,0.31],[2012.4,0.115],[2013.0,0.15],[2013.7,0.30],[2014.1,0.30],[2014.7,0.41],[2015.2,0.29],[2015.8,0.34],[2016.1,0.31]];
const ratioNIG = [[1982.0,0.08],[1982.6,0.11],[1983.2,0.085],[1984.0,0.075],[1985.0,0.14],[1985.5,0.145],[1986.4,0.11],[1986.9,0.115],[1987.9,0.215],[1988.8,0.195],[1989.5,0.145],[1990.5,0.26],[1991.2,0.20],[1992.1,0.16],[1993.2,0.225],[1994.1,0.17],[1995.4,0.145],[1995.9,0.17],[1996.6,0.16],[1997.5,0.245],[1998.4,0.165],[1998.9,0.16],[1999.6,0.125],[2000.1,0.135],[2000.8,0.13],[2001.7,0.165],[2002.3,0.165],[2002.8,0.20],[2003.7,0.11],[2005.0,0.195],[2005.9,0.145],[2006.9,0.115],[2007.9,0.215],[2009.1,0.115],[2010.1,0.20],[2010.8,0.18],[2011.8,0.155],[2012.4,0.19],[2013.1,0.145],[2013.8,0.205],[2014.8,0.11],[2015.7,0.275],[2016.1,0.265]];
const ratioRhodes = [[1982.0,0.485],[1982.4,0.455],[1982.8,0.49],[1983.4,0.43],[1983.9,0.50],[1984.4,0.39],[1984.9,0.25],[1985.4,0.475],[1985.8,0.615],[1986.4,0.54],[1986.8,0.50],[1987.4,0.375],[1987.8,0.44],[1988.2,0.425],[1988.7,0.455],[1989.3,0.34],[1989.8,0.48],[1990.3,0.405],[1990.8,0.465],[1991.2,0.40],[1991.8,0.475],[1992.2,0.435],[1992.7,0.50],[1993.2,0.455],[1993.7,0.515],[1994.7,0.40],[1995.5,0.455],[1996.4,0.31],[1997.6,0.43],[1998.6,0.43],[1999.3,0.46],[1999.8,0.57],[2000.3,0.58],[2000.8,0.65],[2001.4,0.49],[2002.4,0.65],[2003.1,0.515],[2003.8,0.675],[2004.7,0.425],[2005.6,0.545],[2006.3,0.46],[2006.7,0.46],[2007.2,0.385],[2007.9,0.59],[2008.4,0.54],[2008.8,0.57],[2009.5,0.375],[2009.9,0.425],[2010.3,0.42],[2010.8,0.455],[2011.2,0.50],[2011.7,0.725],[2012.2,0.56],[2012.7,0.38],[2013.6,0.535],[2014.0,0.54],[2014.6,0.67],[2015.3,0.43],[2015.9,0.49],[2016.1,0.50]];
const ratioThreshold = 0.5;

// ---------------- CHART ----------------
const FONT = 'DejaVu Sans';
const TXT = '#1a1a1a';
const GRID_COLOR = '#cfcfcf';
const leftPanels = [
  {gray:[alboranGray1,alboranGray2,alboranGray3,alboranGray4,alboranGray5,alboranGray6], blue:alboranBlue, green:alboranGreen, orange:alboranOrange, ticks:alboranTicks, min:-3.41, max:3.49},
  {gray:[algerianGray1,algerianGray2,algerianGray3,algerianGray4,algerianGray5,algerianGray6], blue:algerianBlue, green:algerianGreen, orange:algerianOrange, ticks:algerianTicks, min:-3.47, max:3.52},
  {gray:[bonifacioGray1,bonifacioGray2,bonifacioGray3,bonifacioGray4,bonifacioGray5], blue:bonifacioBlue, green:bonifacioGreen, orange:bonifacioOrange, ticks:bonifacioTicks, min:-1.38, max:1.85},
  {gray:[nigGray1,nigGray2,nigGray3,nigGray4,nigGray5], blue:nigBlue, green:nigGreen, orange:nigOrange, ticks:nigTicks, min:-3.52, max:2.86},
  {gray:[rhodesGray1,rhodesGray2,rhodesGray3,rhodesGray4,rhodesGray5], blue:rhodesBlue, green:rhodesGreen, orange:rhodesOrange, ticks:rhodesTicks, min:-1.107, max:0.975}
];
const ratioSeries = [ratioAlboran, ratioAlgerian, ratioBonifacio, ratioNIG, ratioRhodes];

const grids = [], xAxes = [], yAxes = [], series = [], graphics = [];
const STEP = 151.25, H = 136, W = 853;
const fmtNum = v => (v < 0 ? '\u2212' + Math.abs(v) : String(v));
const fmtYear = v => String(Math.round(v));

leftPanels.forEach((p, i) => {
  const top = 42 + STEP * i;
  grids.push({left: 69, top: top, width: W, height: H});
  xAxes.push({
    gridIndex: i, type: 'value', min: 1982, max: 2016.12,
    axisLine: {show: false}, axisTick: {show: false, customValues: yearTicks},
    axisLabel: {show: i === 4, customValues: yearTicks, formatter: fmtYear, fontFamily: FONT, fontSize: 15.5, color: TXT, margin: 6},
    splitLine: {show: true, lineStyle: {color: GRID_COLOR, width: 1.3}}
  });
  yAxes.push({
    gridIndex: i, type: 'value', min: p.min, max: p.max,
    name: regionNames[i], nameLocation: 'middle', nameGap: 42, nameRotate: 90,
    nameTextStyle: {fontFamily: FONT, fontSize: 15, color: TXT},
    axisLine: {show: true, lineStyle: {color: '#111', width: 1.3}},
    axisTick: {show: false, customValues: p.ticks},
    axisLabel: {customValues: p.ticks, formatter: fmtNum, fontFamily: FONT, fontSize: 15.5, color: TXT, margin: 6},
    splitLine: {show: true, lineStyle: {color: GRID_COLOR, width: 1.3}}
  });
  graphics.push({type: 'text', x: 70, y: top - 9, silent: true,
    style: {text: offsetLabels[i], fontFamily: FONT, fontSize: 16, fill: TXT, align: 'left', verticalAlign: 'middle'}});
  p.gray.forEach(g => {
    series.push({type: 'line', xAxisIndex: i, yAxisIndex: i, data: halfYears.map((t, k) => [t, g[k]]),
      smooth: 0.45, symbol: 'none', silent: true, z: 1,
      lineStyle: {color: 'rgba(128,128,128,0.5)', width: 1.2}});
  });
  series.push({type: 'line', xAxisIndex: i, yAxisIndex: i, data: [], symbol: 'none', z: 2, silent: true,
    markLine: {symbol: 'none', silent: true, animation: false, label: {show: false},
      lineStyle: {color: '#1a1a1a', type: [8, 4], width: 2}, data: [{yAxis: 0}]}});
  series.push({type: 'line', xAxisIndex: i, yAxisIndex: i, data: p.blue, smooth: 0.4, symbol: 'none', z: 3,
    lineStyle: {color: 'rgba(0,0,255,0.72)', width: 1.4}});
  series.push({type: 'line', xAxisIndex: i, yAxisIndex: i, data: p.green, smooth: 0.4, symbol: 'none', z: 3,
    lineStyle: {color: 'rgba(0,128,0,0.75)', width: 1.4}});
  series.push({type: 'line', xAxisIndex: i, yAxisIndex: i, data: p.orange, smooth: 0.4, symbol: 'none', z: 4,
    lineStyle: {color: '#ff8c00', width: 2.2}});
});

ratioSeries.forEach((r, j) => {
  const i = 5 + j;
  const top = 47 + STEP * j;
  grids.push({left: 1002, top: top, width: W, height: H});
  xAxes.push({
    gridIndex: i, type: 'value', min: 1982, max: 2016.12,
    axisLine: {show: true, lineStyle: {color: '#333', width: 1.6}},
    axisTick: {show: false, customValues: yearTicks},
    axisLabel: {show: j === 4, customValues: yearTicks, formatter: fmtYear, fontFamily: FONT, fontSize: 15.5, color: TXT, margin: 7},
    splitLine: {show: true, lineStyle: {color: GRID_COLOR, width: 1.3}}
  });
  yAxes.push({
    gridIndex: i, type: 'value', min: 0, max: 1.0,
    axisLine: {show: true, lineStyle: {color: '#111', width: 1.3}},
    axisTick: {show: false, customValues: ratioTicks},
    axisLabel: {customValues: ratioLabels, fontFamily: FONT, fontSize: 15.5, margin: 6,
      formatter: v => (v === 0 ? '0.0' : String(v)),
      color: v => (Math.abs(v - 0.5) < 1e-9 ? '#0000ff' : TXT)},
    splitLine: {show: true, lineStyle: {color: GRID_COLOR, width: 1.3}}
  });
  series.push({type: 'line', xAxisIndex: i, yAxisIndex: i, data: [], symbol: 'none', z: 2, silent: true,
    markLine: {symbol: 'none', silent: true, animation: false, label: {show: false},
      lineStyle: {color: 'rgba(0,0,255,0.8)', type: 'solid', width: 1.8}, data: [{yAxis: ratioThreshold}]}});
  series.push({type: 'line', xAxisIndex: i, yAxisIndex: i, data: r, smooth: 0.4, symbol: 'none', z: 3,
    lineStyle: {color: '#ff0000', width: 2.2}});
});

const chart = echarts.init(document.getElementById('chart'));
chart.setOption({
  animation: false,
  backgroundColor: '#ffffff',
  title: [
    {text: 'Geostrophic vorticity (1/s)', left: 495, top: 17, textAlign: 'center',
      textStyle: {fontFamily: FONT, fontSize: 18.5, fontWeight: 'normal', color: TXT}},
    {text: 'Intrinsic Ratio', left: 1428, top: 17, textAlign: 'center',
      textStyle: {fontFamily: FONT, fontSize: 18.5, fontWeight: 'normal', color: TXT}}
  ],
  grid: grids, xAxis: xAxes, yAxis: yAxes, series: series, graphic: graphics
});
</script></body></html>
